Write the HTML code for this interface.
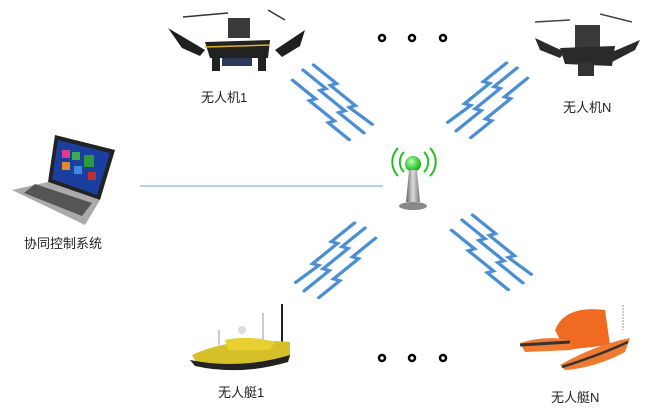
<!DOCTYPE html>
<html><head><meta charset="utf-8"><style>
html,body{margin:0;padding:0;background:#fff;}
svg text{font-family:"Liberation Sans","Noto Sans CJK SC",sans-serif;font-size:13px;fill:#222;}
</style></head><body>
<svg width="648" height="409" viewBox="0 0 648 409" xmlns="http://www.w3.org/2000/svg">
<defs>
<g id="zz" fill="none" stroke="#4a8fd6" stroke-width="3.5" stroke-linecap="round" stroke-linejoin="miter">
<path d="M0,0 L22,22 L16,24 L40,48 L34,50 L58,74"/>
<path d="M-10,12 L12,34 L6,36 L30,60 L24,62 L44,82"/>
<path d="M10,-6 L32,16 L26,18 L50,42 L44,44 L66,64"/>
</g>
<radialGradient id="gb" cx="0.4" cy="0.35" r="0.6"><stop offset="0" stop-color="#b8ffb0"/><stop offset="1" stop-color="#16b516"/></radialGradient>
<linearGradient id="pole" x1="0" x2="1"><stop offset="0" stop-color="#666"/><stop offset="0.5" stop-color="#ddd"/><stop offset="1" stop-color="#777"/></linearGradient>
</defs>

<line x1="140" y1="186" x2="383" y2="186" stroke="#9cc3e8" stroke-width="1.5"/>

<use href="#zz" transform="translate(303,70) scale(1.05,0.85)"/>
<use href="#zz" transform="translate(517,68) scale(-1.05,0.85)"/>
<use href="#zz" transform="translate(365,228) scale(-1.05,0.85)"/>
<use href="#zz" transform="translate(462,220) scale(1.05,0.85)"/>

<g fill="none" stroke="#22c022" stroke-width="2">
<path d="M404,152 a14,14 0 0 0 0,20"/><path d="M398,148 a20,20 0 0 0 0,28"/>
<path d="M424,152 a14,14 0 0 1 0,20"/><path d="M430,148 a20,20 0 0 1 0,28"/>
</g>
<circle cx="413" cy="164" r="8" fill="url(#gb)"/>
<polygon points="409,170 417,170 420,202 406,202" fill="url(#pole)"/>
<ellipse cx="413" cy="206" rx="14" ry="4" fill="#888"/>

<g fill="none" stroke="#000" stroke-width="2.5">
<circle cx="382" cy="38" r="3"/><circle cx="412" cy="38" r="3"/><circle cx="443" cy="38" r="3"/>
<circle cx="382" cy="358" r="3"/><circle cx="412" cy="358" r="3"/><circle cx="443" cy="358" r="3"/>
</g>

<!-- drone 1 -->
<g>
<line x1="183" y1="17" x2="228" y2="13" stroke="#333" stroke-width="1.5"/>
<line x1="268" y1="10" x2="285" y2="20" stroke="#333" stroke-width="1.5"/>
<path d="M168,28 L205,50 L200,56 L182,48 Z" fill="#1f1f1f"/>
<path d="M305,30 L275,50 L282,57 L300,46 Z" fill="#1f1f1f"/>
<rect x="228" y="18" width="22" height="20" fill="#3a3a3a"/>
<path d="M205,42 L270,40 L268,58 L210,58 Z" fill="#222"/>
<line x1="205" y1="47" x2="270" y2="45" stroke="#d8b020" stroke-width="1.5"/>
<rect x="222" y="58" width="30" height="8" fill="#2b3a5a"/>
<rect x="212" y="55" width="8" height="16" fill="#222"/><rect x="258" y="55" width="8" height="16" fill="#222"/>
</g>
<text x="201" y="102">无人机1</text>

<!-- drone N -->
<g>
<line x1="535" y1="22" x2="570" y2="20" stroke="#444" stroke-width="1.5"/>
<line x1="600" y1="14" x2="632" y2="22" stroke="#444" stroke-width="1.5"/>
<path d="M535,38 L565,52 L560,58 L540,50 Z" fill="#2a2a2a"/>
<path d="M640,40 L605,55 L612,62 L635,50 Z" fill="#2a2a2a"/>
<rect x="575" y="25" width="25" height="28" fill="#3a3a3a"/>
<path d="M560,48 L615,46 L612,66 L565,64 Z" fill="#2a2a2a"/>
<rect x="578" y="62" width="16" height="14" fill="#333"/>
</g>
<text x="563" y="112">无人机N</text>

<!-- laptop -->
<g>
<polygon points="55,135 115,150 100,200 48,182" fill="#222"/>
<polygon points="58,140 110,153 97,195 52,179" fill="#1a3f9e"/>
<rect x="62" y="150" width="8" height="8" fill="#e03a8a"/><rect x="72" y="152" width="8" height="8" fill="#3ab04a"/>
<rect x="84" y="155" width="10" height="12" fill="#2a9a3a"/><rect x="62" y="162" width="8" height="8" fill="#e08a2a"/>
<rect x="74" y="166" width="8" height="8" fill="#3a8ae0"/><rect x="88" y="172" width="8" height="8" fill="#c03030"/>
<polygon points="48,182 100,200 85,225 12,190" fill="#aaa"/>
<polygon points="35,184 92,203 82,216 24,193" fill="#555"/>
</g>
<text x="24" y="248">协同控制系统</text>

<!-- boat 1 -->
<g>
<line x1="282" y1="304" x2="282" y2="345" stroke="#222" stroke-width="2"/>
<line x1="263" y1="313" x2="263" y2="340" stroke="#bbb" stroke-width="1.5"/>
<line x1="219" y1="330" x2="219" y2="345" stroke="#bbb" stroke-width="1.5"/>
<circle cx="242" cy="330" r="4" fill="#ddd"/>
<path d="M192,355 Q230,337 290,342 L290,358 Q260,372 198,365 Z" fill="#d6c02a"/>
<path d="M225,340 Q250,335 275,342 L270,350 L228,350 Z" fill="#e8d030"/>
<path d="M190,360 Q240,370 290,355 L288,362 Q240,376 195,366 Z" fill="#222"/>
</g>
<text x="218" y="397">无人艇1</text>

<!-- boat N -->
<g>
<line x1="623" y1="305" x2="623" y2="330" stroke="#bbb" stroke-width="1.5" stroke-dasharray="2,1"/>
<path d="M555,330 Q565,305 605,310 L610,345 L565,350 Z" fill="#f06a22"/>
<path d="M520,343 Q545,335 570,340 L572,350 L525,352 Z" fill="#f07a30"/>
<path d="M520,345 L570,342" stroke="#333" stroke-width="3"/>
<path d="M560,365 Q595,345 630,338 L625,352 Q595,368 565,370 Z" fill="#f07a30"/>
<path d="M562,367 Q600,355 628,342" stroke="#333" stroke-width="2.5" fill="none"/>
</g>
<text x="551" y="402">无人艇N</text>
</svg>
</body></html>
